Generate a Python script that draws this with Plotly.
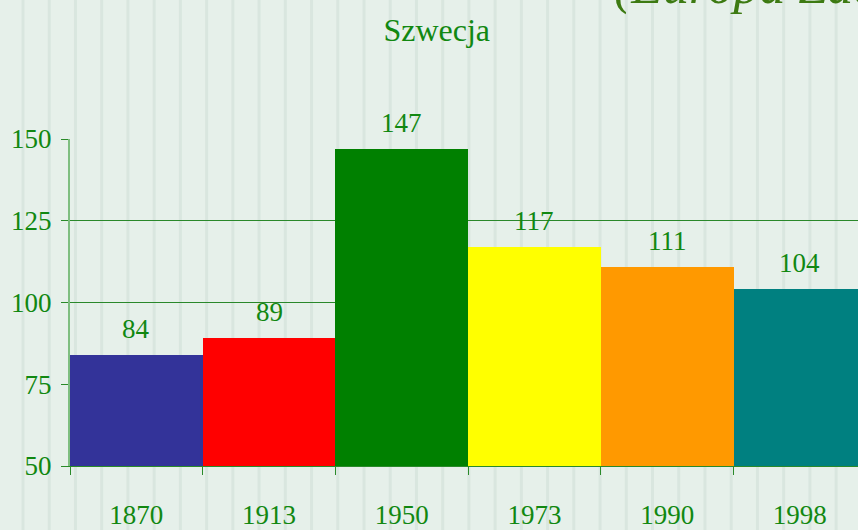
import plotly.graph_objects as go

# data
years = ["1870", "1913", "1950", "1973", "1990", "1998"]
values = [84, 89, 147, 117, 111, 104]
bar_colors = ["#333399", "#FF0000", "#008000", "#FFFF00", "#FF9900", "#008080"]
y_ticks = [50, 75, 100, 125, 150]

GREEN = "#118811"
FONT = "Liberation Serif"
BG = "#E6F0EA"

W, H = 858, 530
M_L, M_R, M_T, M_B = 70, 0, 139, 61
plot_w = W - M_L - M_R
plot_h = H - M_T - M_B

fig = go.Figure()

fig.add_trace(go.Bar(
    x=years,
    y=[v - 50 for v in values],
    base=50,
    marker=dict(color=bar_colors, line=dict(width=0)),
    hoverinfo="skip",
))

# value labels above each bar (category index, numeric-looking names confuse annotations)
annotations = [
    dict(x=i, y=v, xref="x", yref="y", text=str(v), showarrow=False,
         yanchor="bottom", yshift=9, font=dict(family=FONT, size=27, color=GREEN))
    for i, v in enumerate(values)
]

# large italic heading, mostly cut off by the top edge
annotations.append(dict(
    x=(612 - M_L) / plot_w, y=(plot_h + M_T - 16) / plot_h,
    xref="paper", yref="paper", xanchor="left", yanchor="bottom",
    text="<i>(Europa Zachodnia)</i>", showarrow=False,
    font=dict(family=FONT, size=52, color="#3d7a12"),
))

# faint vertical stripes of the slide background
shapes = []
px = 23.0
while px < W + 30:
    xp = (px - M_L) / plot_w
    shapes.append(dict(
        type="line", xref="paper", yref="paper", layer="below",
        x0=xp, x1=xp, y0=-1, y1=2,
        line=dict(color="#D9E6DF", width=3),
    ))
    px += 26.23

fig.update_layout(
    width=W, height=H,
    margin=dict(l=M_L, r=M_R, t=M_T, b=M_B, pad=0),
    paper_bgcolor=BG,
    plot_bgcolor="rgba(0,0,0,0)",
    bargap=0,
    showlegend=False,
    title=dict(text="Szwecja", x=0.509, xanchor="center", y=1 - 30 / H,
               yanchor="middle", yref="container",
               font=dict(family=FONT, size=32, color=GREEN)),
    xaxis=dict(
        type="category",
        range=[-0.5, -0.5 + plot_w / 132.7],
        tickson="boundaries",
        ticks="outside", ticklen=8, tickcolor="#2a8a2a", tickwidth=1,
        showgrid=False,
        showline=True, linecolor="#2a8a2a", linewidth=1,
        ticklabelstandoff=25,
        tickfont=dict(family=FONT, size=27, color=GREEN),
    ),
    yaxis=dict(
        range=[50, 150],
        tickvals=y_ticks,
        ticks="outside", ticklen=7, tickcolor="#2a8a2a", tickwidth=1,
        showgrid=True, gridcolor="#2A882A", gridwidth=1,
        zeroline=False,
        showline=True, linecolor="rgba(40,150,40,0.55)", linewidth=2,
        ticklabelstandoff=4,
        tickfont=dict(family=FONT, size=27, color=GREEN),
    ),
    annotations=annotations,
    shapes=shapes,
)

# drop the default page margin so the figure sits flush at the window corner
fig.write_html(
    "out.html",
    config={"displayModeBar": False},
    post_script="document.body.style.margin='0';document.body.style.background='%s';" % BG,
)
